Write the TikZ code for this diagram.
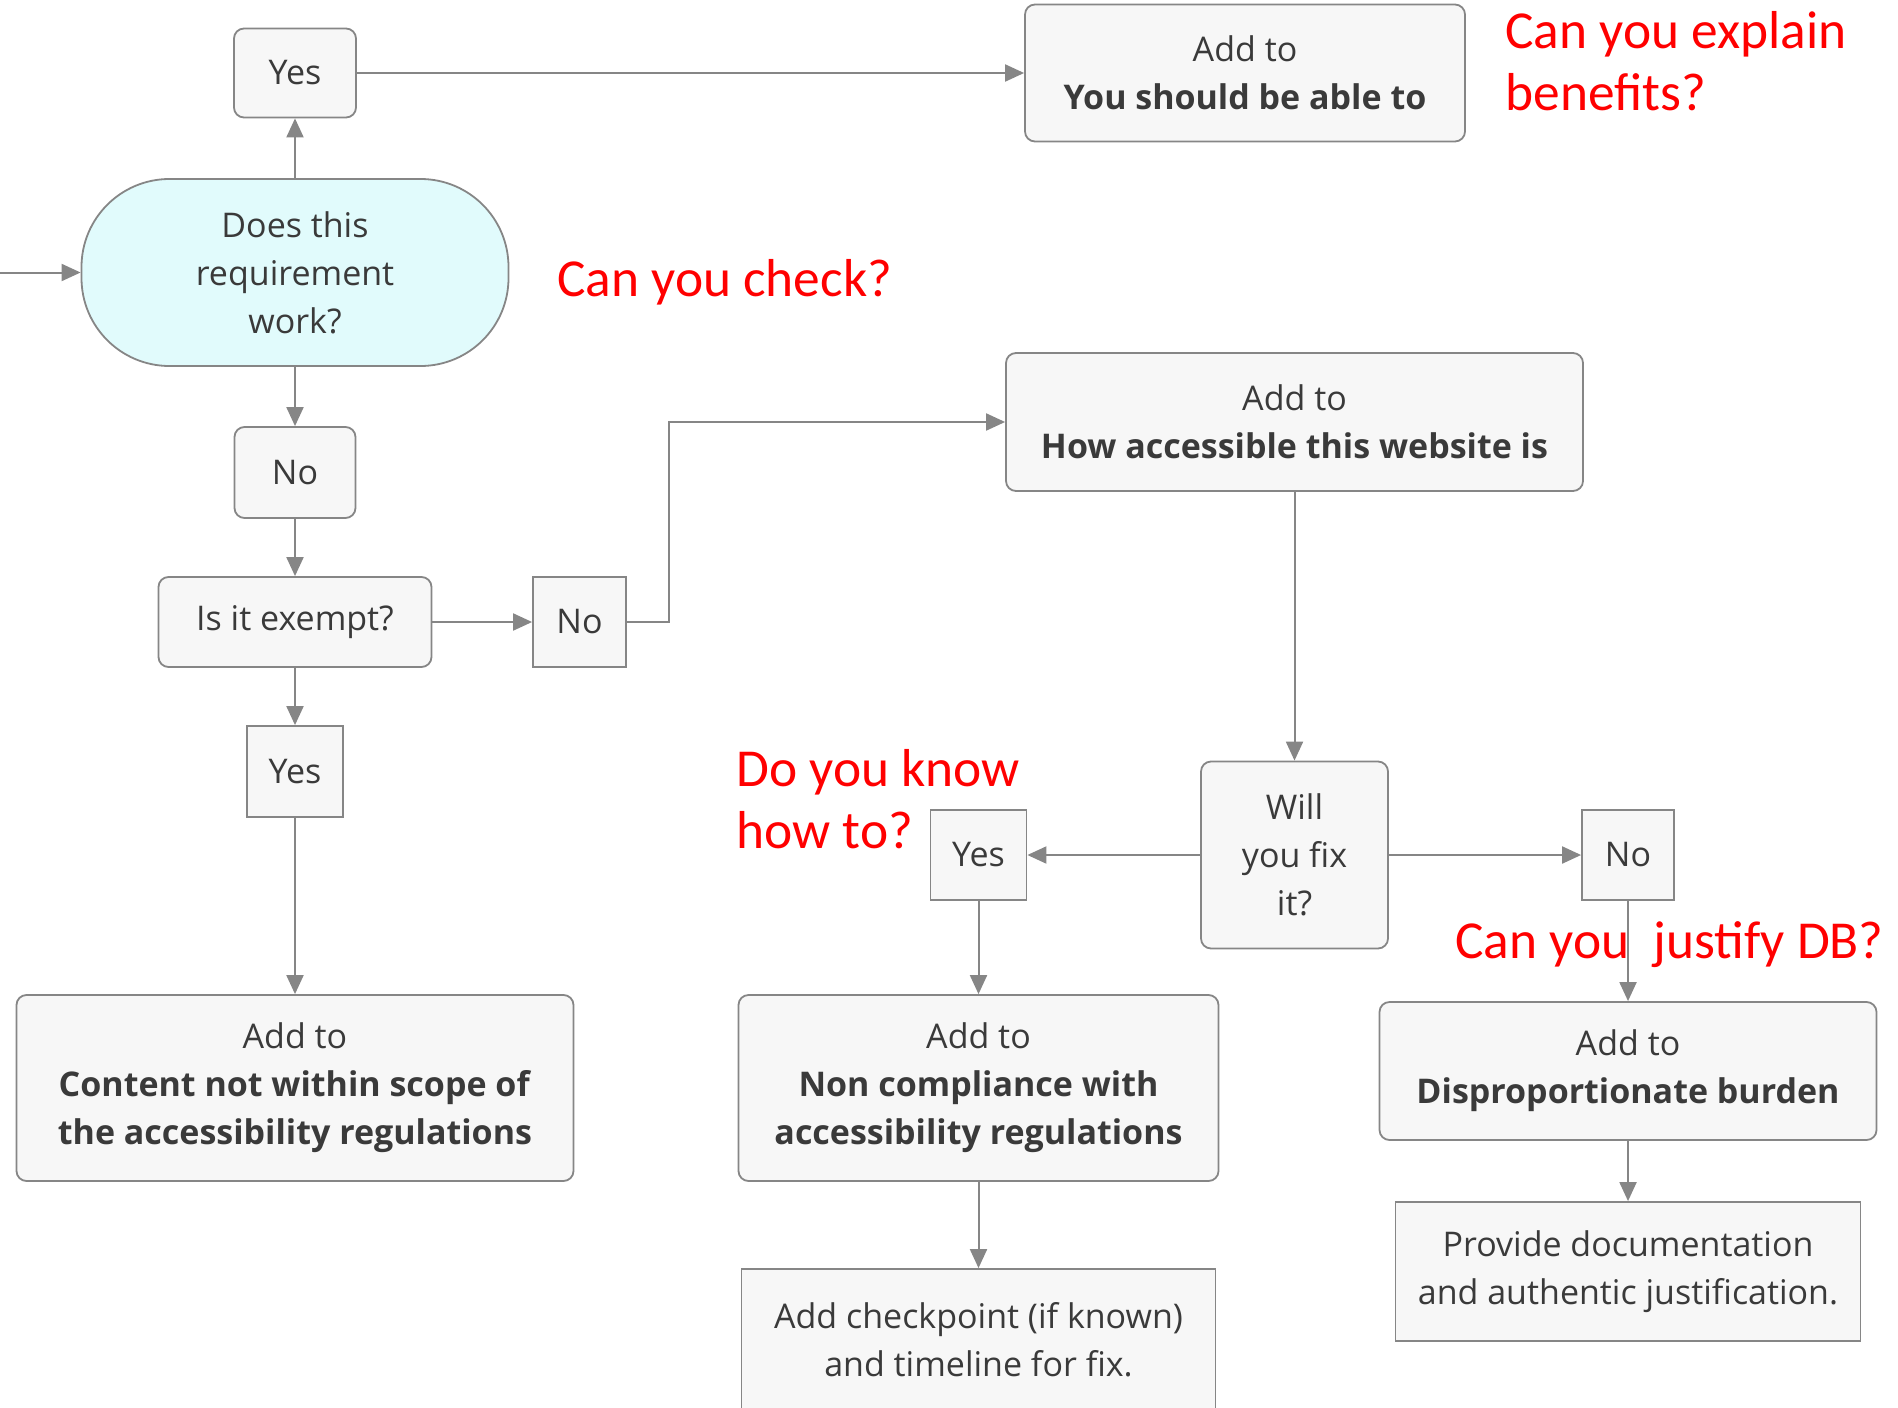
\documentclass[tikz,border=0pt]{standalone}
\usepackage{fontspec}
\setmainfont{Open Sans}
\newfontfamily\notefont{Carlito}
\usetikzlibrary{arrows.meta}
\definecolor{boxgray}{HTML}{F7F7F7}
\definecolor{linegray}{HTML}{868686}
\definecolor{textgray}{HTML}{3A3A3A}
\definecolor{askcyan}{HTML}{E1FBFC}

\begin{document}
\begin{tikzpicture}[x=0.5pt,y=-0.5pt,>={Triangle[length=9.5pt,width=8.5pt]},
	box/.style={draw=linegray,fill=boxgray,line width=0.9pt,rounded corners=5pt,align=center,text=textgray,inner sep=0pt,font=\fontsize{17}{24}\selectfont},
	sq/.style={box,sharp corners},
	link/.style={->,draw=linegray,line width=1pt},
	note/.style={text=red,align=left,anchor=west,inner sep=0pt,font=\notefont\fontsize{26.7}{31}\selectfont}]
	\useasboundingbox (0,0) rectangle (1898,1407);
	% left column
	\node[box,minimum width=61pt,minimum height=44.5pt] (yesA) at (295,73) {Yes};
	\node[box,minimum width=220pt,minimum height=68.5pt] (able) at (1245,73) {Add to\\\textbf{You should be able to}};
	\node[box,fill=askcyan,rounded corners=44pt,minimum width=213.5pt,minimum height=93.5pt] (works) at (295,272.5) {Does this\\requirement\\work?};
	\coordinate (in) at (0,272.5);
	\node[box,minimum width=60.5pt,minimum height=45.5pt] (noA) at (295,472.5) {No};
	\node[box,minimum width=136.5pt,minimum height=45pt] (exempt) at (295,622) {Is it exempt?};
	\node[sq,minimum width=46.5pt,minimum height=45pt] (noB) at (579.5,622) {No};
	\node[sq,minimum width=48pt,minimum height=45.5pt] (yesB) at (295,771.5) {Yes};
	\node[box,minimum width=278.5pt,minimum height=93pt] (scope) at (295,1088) {Add to\\\textbf{Content not within scope of}\\\textbf{the accessibility regulations}};
	% right part
	\node[box,minimum width=288.5pt,minimum height=69pt] (how) at (1294.5,422) {Add to\\\textbf{How accessible this website is}};
	\node[box,minimum width=93.5pt,minimum height=93.5pt] (fix) at (1294.5,855) {Will\\you fix\\it?};
	\node[sq,minimum width=48pt,minimum height=45pt] (yesC) at (978.5,855) {Yes};
	\node[sq,minimum width=46pt,minimum height=45pt] (noC) at (1628,855) {No};
	\node[box,minimum width=240pt,minimum height=93pt] (noncomp) at (978.5,1088) {Add to\\\textbf{Non compliance with}\\\textbf{accessibility regulations}};
	\node[sq,minimum width=237pt,minimum height=71pt] (checkpt) at (978.5,1340) {Add checkpoint (if known)\\and timeline for fix.};
	\node[box,minimum width=248.5pt,minimum height=69pt] (burden) at (1628,1071) {Add to\\\textbf{Disproportionate burden}};
	\node[sq,minimum width=232.5pt,minimum height=69.5pt] (provide) at (1628,1271.5) {Provide documentation\\and authentic justification.};

	\draw[link] (in) -- (works);
	\draw[link] (works) -- (yesA);
	\draw[link] (yesA.east) -- (yesA.east -| able.west);
	\draw[link] (works) -- (noA);
	\draw[link] (noA) -- (exempt);
	\draw[link] (exempt) -- (noB);
	\draw[link] (noB.east) -- ++(42,0) |- (how.west);
	\draw[link] (exempt) -- (yesB);
	\draw[link] (yesB) -- (scope);
	\draw[link] (how) -- (fix);
	\draw[link] (fix) -- (yesC);
	\draw[link] (fix) -- (noC);
	\draw[link] (yesC) -- (noncomp);
	\draw[link] (noC) -- (burden);
	\draw[link] (noncomp) -- (checkpt);
	\draw[link] (burden) -- (provide);

	% questions in red
	\node[note] (benefits) at (1505,61) {Can you explain\\benefits?};
	\node[note] (check) at (557,282) {Can you check?};
	\node[note] (know) at (736,799) {Do you know\\how to?};
	\node[note] (justify) at (1455,945) {Can you\ \ justify DB?};
\end{tikzpicture}
\end{document}
